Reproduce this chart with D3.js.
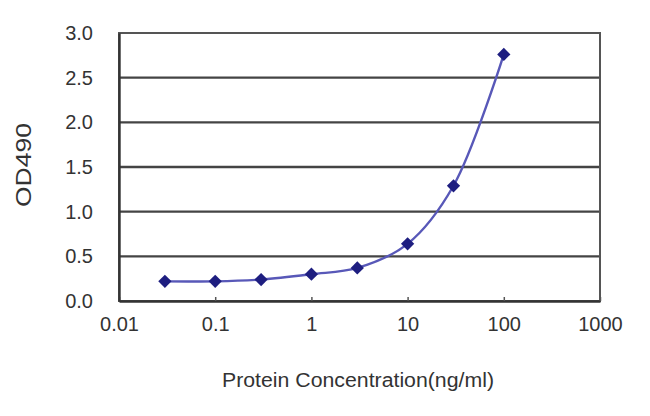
<!DOCTYPE html>
<html><head><meta charset="utf-8">
<script src="https://cdn.jsdelivr.net/npm/d3@7"></script>
<style>html,body{margin:0;padding:0;background:#fff;}</style>
</head><body>
<svg id="chart" width="650" height="416"></svg>
<script>
const concentrations = [0.03, 0.1, 0.3, 1, 3, 10, 30, 100];
const od490 = [0.22, 0.22, 0.24, 0.30, 0.37, 0.64, 1.29, 2.76];
const xTicks = [0.01, 0.1, 1, 10, 100, 1000];
const xTickLabels = ["0.01", "0.1", "1", "10", "100", "1000"];
const yTicks = [0, 0.5, 1.0, 1.5, 2.0, 2.5, 3.0];
const yTickLabels = ["0.0", "0.5", "1.0", "1.5", "2.0", "2.5", "3.0"];
const xTitle = "Protein Concentration(ng/ml)";
const yTitle = "OD490";

const svg = d3.select("#chart");
const L = 119, R = 600, T = 33, B = 301;
const x = d3.scaleLog().domain([0.01, 1000]).range([L, R]);
const y = d3.scaleLinear().domain([0, 3]).range([B, T]);
const font = "Arial, 'Liberation Sans', sans-serif";

// gridlines
svg.append("g").selectAll("line").data(yTicks.filter(v => v > 0 && v < 3)).join("line")
  .attr("x1", L).attr("x2", R).attr("y1", d => y(d)).attr("y2", d => y(d))
  .attr("stroke", "#444").attr("stroke-width", 2.4);

// frame
svg.append("rect").attr("x", L).attr("y", T).attr("width", R - L).attr("height", B - T)
  .attr("fill", "none").attr("stroke", "#555").attr("stroke-width", 2);

// axes
const xAxis = d3.axisBottom(x).tickValues(xTicks).tickFormat((d, i) => xTickLabels[i]).tickSizeInner(-4).tickSizeOuter(0).tickPadding(26);
const gx = svg.append("g").attr("transform", `translate(0,${B})`).call(xAxis);
gx.select(".domain").attr("stroke", "#333").attr("stroke-width", 2.4);
gx.selectAll(".tick line").attr("stroke", "#555").attr("stroke-width", 1.5);
gx.selectAll(".tick text").attr("font-family", font).attr("font-size", 20).attr("fill", "#333").attr("dy", "0.2em");

const yAxis = d3.axisLeft(y).tickValues(yTicks).tickFormat((d, i) => yTickLabels[i]).tickSize(0).tickPadding(26);
const gy = svg.append("g").attr("transform", `translate(${L},0)`).call(yAxis);
gy.select(".domain").attr("stroke", "#333").attr("stroke-width", 2.4);
gy.selectAll(".tick text").attr("font-family", font).attr("font-size", 20).attr("fill", "#333");

// line
const pts = concentrations.map((c, i) => [c, od490[i]]);
const line = d3.line().x(d => x(d[0])).y(d => y(d[1])).curve(d3.curveCatmullRom.alpha(0.5));
svg.append("path").datum(pts).attr("d", line).attr("fill", "none")
  .attr("stroke", "#5858b8").attr("stroke-width", 2.4);

// markers (square rotated 45° = diamond)
svg.append("g").selectAll("path").data(pts).join("path")
  .attr("d", d3.symbol().type(d3.symbolSquare).size(88))
  .attr("transform", d => `translate(${x(d[0])},${y(d[1])}) rotate(45)`)
  .attr("fill", "#1e1e80");

// titles
svg.append("text").attr("x", 358).attr("y", 387).attr("text-anchor", "middle")
  .attr("font-family", font).attr("font-size", 20).attr("fill", "#333")
  .attr("textLength", 272).attr("lengthAdjust", "spacingAndGlyphs").text(xTitle);
svg.append("text").attr("transform", "translate(31,165) rotate(-90)").attr("text-anchor", "middle")
  .attr("font-family", font).attr("font-size", 22).attr("fill", "#333")
  .attr("textLength", 84).attr("lengthAdjust", "spacingAndGlyphs").text(yTitle);
</script>
</body></html>
